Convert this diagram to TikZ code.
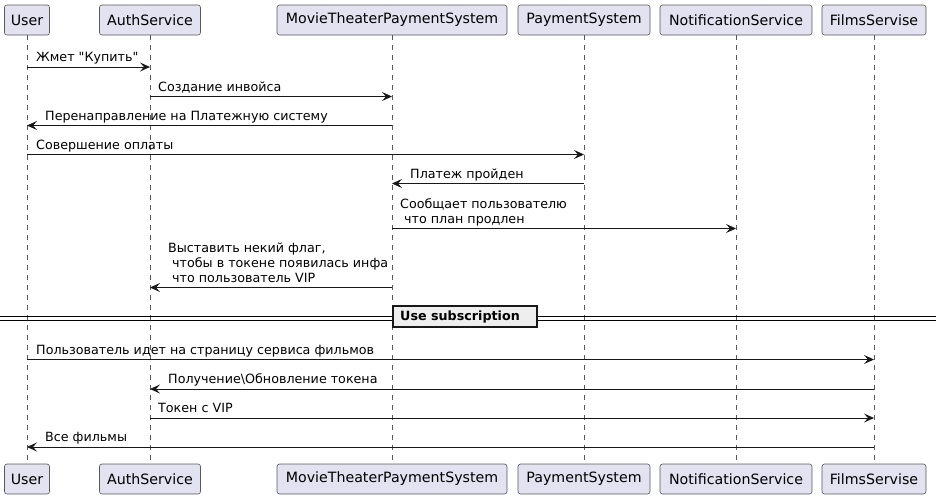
\documentclass[tikz,border=0pt]{standalone}
\usepackage{fontspec}
\setmainfont{DejaVu Sans}[Ligatures=TeXOff]
\usetikzlibrary{arrows.meta}
\definecolor{partfill}{HTML}{E2E2F0}
\definecolor{partline}{HTML}{181818}
\definecolor{divfill}{HTML}{EEEEEE}
\begin{document}
\begin{tikzpicture}[x=1pt,y=-1pt,
  part/.style={draw=black!65, line width=0.6pt, fill=partfill, rounded corners=2.5pt,
    minimum height=30pt, inner sep=0pt, font=\fontsize{14.2}{16}\selectfont},
  life/.style={draw=black!65, line width=0.6pt, dash pattern=on 5pt off 5pt},
  msg/.style={draw=partline, line width=1pt, -{Stealth[length=10pt,width=9pt,inset=4pt]}},
  lbl/.style={anchor=south west, inner sep=0pt, font=\fontsize{12.7}{15}\selectfont, align=left},
  divbox/.style={draw=partline, line width=2pt, fill=divfill, minimum width=144pt,
    minimum height=21pt, inner sep=0pt, font=\fontsize{12.7}{15}\selectfont\bfseries}
]
\useasboundingbox (0,0) rectangle (936,499);
\fill[white] (0,0) rectangle (936,499);

% participants (top)
\node[part, minimum width=45pt]  (uT) at (27,20)  {User};
\node[part, minimum width=101pt] (aT) at (150,20) {AuthService};
\node[part, minimum width=230pt] (mT) at (392,20) {MovieTheaterPaymentSystem};
\node[part, minimum width=132pt] (pT) at (584,20) {PaymentSystem};
\node[part, minimum width=152pt] (nT) at (736,20) {NotificationService};
\node[part, minimum width=104pt] (fT) at (874,20) {FilmsServise};
% participants (bottom)
\node[part, minimum width=45pt]  (uB) at (27,479)  {User};
\node[part, minimum width=101pt] (aB) at (150,479) {AuthService};
\node[part, minimum width=230pt] (mB) at (392,479) {MovieTheaterPaymentSystem};
\node[part, minimum width=132pt] (pB) at (584,479) {PaymentSystem};
\node[part, minimum width=152pt] (nB) at (736,479) {NotificationService};
\node[part, minimum width=104pt] (fB) at (874,479) {FilmsServise};

% lifelines
\draw[life] (uT.south) -- (uB.north);
\draw[life] (aT.south) -- (aB.north);
\draw[life] (mT.south) -- (mB.north);
\draw[life] (pT.south) -- (pB.north);
\draw[life] (nT.south) -- (nB.north);
\draw[life] (fT.south) -- (fB.north);

% rows
\coordinate (r1) at (0,67);
\coordinate (r2) at (0,96.5);
\coordinate (r3) at (0,125.5);
\coordinate (r4) at (0,154.5);
\coordinate (r5) at (0,183.5);
\coordinate (r6) at (0,228.5);
\coordinate (r7) at (0,287.5);
\coordinate (r8) at (0,359.5);
\coordinate (r9) at (0,389);
\coordinate (r10) at (0,418);
\coordinate (r11) at (0,447);

% messages
\draw[msg] (uT |- r1) -- (aT |- r1);
\node[lbl] (l1) at (36,66.5) {Жмет "Купить"\strut};
\draw[msg] (aT |- r2) -- (mT |- r2);
\node[lbl] (l2) at (158,96) {Создание инвойса\strut};
\draw[msg] (mT |- r3) -- (uT |- r3);
\node[lbl] (l3) at (45,125) {Перенаправление на Платежную систему\strut};
\draw[msg] (uT |- r4) -- (pT |- r4);
\node[lbl] (l4) at (36,154) {Совершение оплаты\strut};
\draw[msg] (pT |- r5) -- (mT |- r5);
\node[lbl] (l5) at (410,183) {Платеж пройден\strut};
\draw[msg] (mT |- r6) -- (nT |- r6);
\node[lbl] (l6) at (400,228) {Сообщает пользователю\\\hspace*{4pt}что план продлен\strut};
\draw[msg] (mT |- r7) -- (aT |- r7);
\node[lbl] (l7) at (168,287) {Выставить некий флаг,\\\hspace*{4pt}чтобы в токене появилась инфа\\\hspace*{4pt}что пользователь VIP\strut};

% divider
\coordinate (dl) at (0,316);
\coordinate (dr) at (936,316);
\coordinate (dl2) at (0,320);
\coordinate (dr2) at (936,320);
\draw[line width=1pt] (dl) -- (dr);
\draw[line width=1pt] (dl2) -- (dr2);
\node[divbox] (div) at (465,316.5) {Use subscription\hspace*{10pt}};

\draw[msg] (uT |- r8) -- (fT |- r8);
\node[lbl] (l8) at (36,359) {Пользователь идет на страницу сервиса фильмов\strut};
\draw[msg] (fT |- r9) -- (aT |- r9);
\node[lbl] (l9) at (168,388.5) {Получение\textbackslash Обновление токена\strut};
\draw[msg] (aT |- r10) -- (fT |- r10);
\node[lbl] (l10) at (158,417.5) {Токен с VIP\strut};
\draw[msg] (fT |- r11) -- (uT |- r11);
\node[lbl] (l11) at (45,446.5) {Все фильмы\strut};
\end{tikzpicture}
\end{document}
